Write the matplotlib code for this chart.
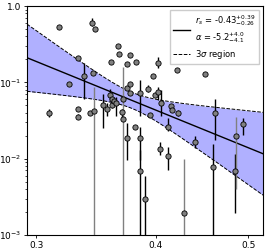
import numpy as np
import matplotlib
matplotlib.use("Agg")
import matplotlib.pyplot as plt
from matplotlib.ticker import FixedLocator, FixedFormatter, NullLocator, LogLocator
from matplotlib.lines import Line2D

nan = np.nan
# data points: x, y, lower / upper ends of the error bars (nan = no bar drawn)
x_vals = [0.3095, 0.3169, 0.3250, 0.3321, 0.3321, 0.3321, 0.3370, 0.3419, 0.3431, 0.3439,
          0.3452, 0.3458, 0.3521, 0.3559, 0.3585, 0.3591, 0.3600, 0.3605, 0.3620, 0.3638,
          0.3658, 0.3664, 0.3688, 0.3697, 0.3697, 0.3738, 0.3738, 0.3762, 0.3762, 0.3758,
          0.3738, 0.3808, 0.3814, 0.3849, 0.3856, 0.3856, 0.3904, 0.3929, 0.3948, 0.3974,
          0.3991, 0.4025, 0.4027, 0.4051, 0.4038, 0.4118, 0.4118, 0.4148, 0.4163, 0.4213,
          0.4224, 0.4282, 0.4402, 0.4507, 0.4595, 0.4612, 0.4853, 0.4841, 0.4933]
y_vals = [0.0393, 0.527, 0.0950, 0.2091, 0.0450, 0.0354, 0.1216, 0.0393, 0.594, 0.1343,
          0.0418, 0.496, 0.0500, 0.0446, 0.0686, 0.1870, 0.0603, 0.0508, 0.0578, 0.0540,
          0.2955, 0.2358, 0.0412, 0.0608, 0.0333, 0.1729, 0.0847, 0.0956, 0.2288, 0.0722,
          0.0187, 0.0257, 0.1870, 0.0722, 0.0187, 0.00697, 0.00297, 0.0822, 0.0376, 0.1216,
          0.0686, 0.1815, 0.0758, 0.0535, 0.0135, 0.0107, 0.0264, 0.0493, 0.0431, 0.1435,
          0.0396, 0.00195, 0.0167, 0.1303, 0.00786, 0.0396, 0.0196, 0.00697, 0.0282]
y_lo = [0.0354, nan, nan, nan, 0.042, 0.033, 0.0608, nan, 0.55, nan,
        0.0, nan, 0.0254, 0.0365, 0.058, nan, nan, 0.046, nan, 0.036,
        nan, nan, 0.034, nan, 0.0, nan, nan, nan, nan, nan,
        0.0097, nan, nan, 0.0365, 0.0097, 0.0, 0.0, 0.074, nan, nan,
        nan, 0.1533, 0.0591, 0.0365, 0.01128, 0.0070, 0.0228, nan, nan, nan,
        0.036, 0.0, 0.0137, nan, 0.0, 0.0177, 0.0040, 0.00197, 0.0206]
y_hi = [0.0450, nan, nan, nan, 0.048, 0.038, 0.1799, nan, 0.70, nan,
        0.0873, nan, 0.0707, 0.0540, 0.082, nan, nan, 0.056, nan, 0.064,
        nan, nan, 0.045, nan, 0.1595, nan, nan, nan, nan, nan,
        0.0296, nan, nan, 0.1078, 0.0264, 0.0131, 0.0060, 0.092, nan, nan,
        nan, 0.2154, 0.0873, 0.0798, 0.0167, 0.0143, 0.0344, nan, nan, nan,
        0.043, 0.0100, 0.0200, nan, 0.0157, 0.0608, 0.0354, 0.01162, 0.0344]
gray_bar = [0, 0, 0, 0, 0, 0, 0, 0, 0, 0,
            1, 0, 0, 0, 0, 0, 0, 0, 0, 0,
            0, 0, 0, 0, 1, 0, 0, 0, 0, 0,
            0, 0, 0, 0, 0, 0, 0, 0, 0, 0,
            0, 0, 0, 0, 0, 0, 0, 0, 0, 0,
            0, 1, 0, 0, 0, 0, 1, 0, 0]

# power-law fit and its 3-sigma band (log-log)
fit_norm = 0.0434      # value at x = 0.4
fit_alpha = -5.1
band_h0 = 0.105        # dex at pivot
band_slope = 3.89      # dex per dex away from pivot
band_pivot = 0.378

x_ticks = [0.3, 0.4, 0.5]
x_tick_labels = ["0.3", "0.4", "0.5"]
y_ticks = [1e-3, 1e-2, 1e-1, 1.0]
y_tick_labels = [r"$10^{-3}$", r"$10^{-2}$", r"$10^{-1}$", "1.0"]
legend_fit = r"$r_s$ = -0.43$^{+0.39}_{-0.26}$" + "\n" + r"$\alpha$ = -5.2$^{+4.0}_{-4.1}$"
legend_band = r"3$\sigma$ region"

x_arr = np.array(x_vals); y_arr = np.array(y_vals)
lo = np.array(y_lo); hi = np.array(y_hi); g = np.array(gray_bar, bool)

fig = plt.figure(figsize=(2.67, 2.52), dpi=100)
ax = fig.add_axes([0.101, 0.0675, 0.884, 0.9085])
ax.set_xscale("log"); ax.set_yscale("log")
xmin, xmax = 0.2935, 0.518
ax.set_xlim(xmin, xmax); ax.set_ylim(1e-3, 1.0)

xx = np.logspace(np.log10(xmin), np.log10(xmax), 300)
L = np.log10(xx)
yc = np.log10(fit_norm) + fit_alpha * (L - np.log10(0.4))
hw = np.sqrt(band_h0**2 + (band_slope * (L - np.log10(band_pivot)))**2)
ax.fill_between(xx, 10**(yc - hw), 10**(yc + hw), color="#b0b0ff", lw=0, zorder=1)
ax.plot(xx, 10**(yc + hw), "k--", lw=0.7, zorder=2)
ax.plot(xx, 10**(yc - hw), "k--", lw=0.7, zorder=2)
ax.plot(xx, 10**yc, "k-", lw=1.0, zorder=2)

has = ~np.isnan(lo)
for mask, col in [(has & ~g, "black"), (has & g, "gray")]:
    ax.vlines(x_arr[mask], np.maximum(lo[mask], 1e-6), hi[mask], colors=col, lw=1.0, zorder=3)
ax.plot(x_arr, y_arr, "o", ms=3.8, mfc="#808080", mec="black", mew=0.6, zorder=4, ls="none")

ax.xaxis.set_major_locator(FixedLocator(x_ticks))
ax.xaxis.set_major_formatter(FixedFormatter(x_tick_labels))
ax.xaxis.set_minor_locator(NullLocator())
ax.yaxis.set_major_locator(FixedLocator(y_ticks))
ax.yaxis.set_major_formatter(FixedFormatter(y_tick_labels))
ax.yaxis.set_minor_locator(LogLocator(base=10, subs=np.arange(2, 10)))
ax.tick_params(labelsize=6.5, length=2.5, width=0.6, pad=1.5)
ax.tick_params(which="minor", length=1.5, width=0.5)
for s in ax.spines.values():
    s.set_linewidth(0.8)

h1 = Line2D([], [], color="black", lw=1.0)
h2 = Line2D([], [], color="black", ls="--", lw=0.7)
ax.legend([h1, h2], [legend_fit, legend_band], loc="upper right", fontsize=6,
          handlelength=2.0, borderpad=0.4, labelspacing=0.3, handletextpad=0.6,
          fancybox=False, framealpha=1, edgecolor="#cccccc")

fig.savefig("out.png", dpi=100)
